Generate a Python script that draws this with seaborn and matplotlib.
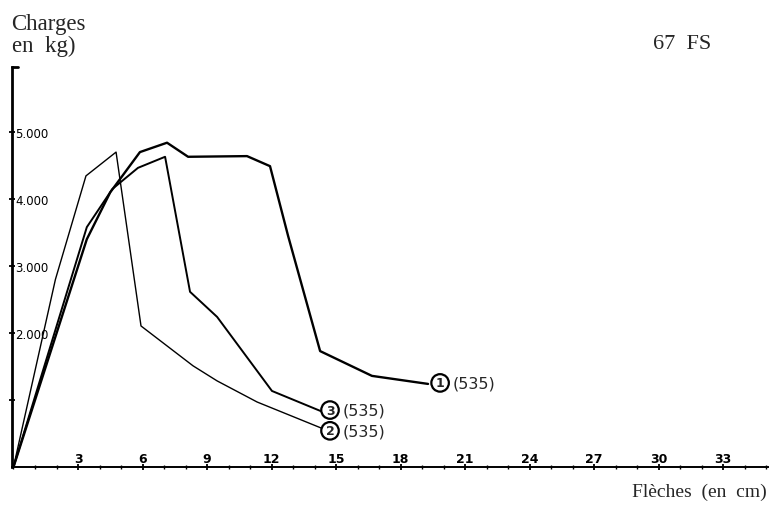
import numpy as np
import pandas as pd
import seaborn as sns
from matplotlib import pyplot as plt
from matplotlib.ticker import MultipleLocator

# Courbes charge / flèche (67 FS)
fleche_1 = [0, 3.41, 4.5, 5.88, 7.14, 8.12, 10.86, 11.93, 12.77, 14.26, 16.67, 19.28]
charge_1 = [0, 3400, 4100, 4700, 4840, 4630, 4640, 4490, 3450, 1730, 1360, 1240]

fleche_2 = [0, 1.95, 3.37, 4.77, 5.93, 8.35, 9.47, 11.33, 14.4]
charge_2 = [0, 2800, 4345, 4700, 2105, 1510, 1285, 970, 570]

fleche_3 = [0, 3.41, 4.6, 5.79, 7.05, 8.21, 9.47, 12.02, 14.4]
charge_3 = [0, 3580, 4150, 4465, 4630, 2615, 2240, 1135, 820]

etiquettes = ["1", "2", "3"]
etiquette_pos = {"1": (19.84, 1255), "2": (14.72, 540), "3": (14.72, 850)}

y_ticks = [1000, 2000, 3000, 4000, 5000]
y_labels = ["", "2.000", "3.000", "4.000", "5.000"]
x_ticks = [3, 6, 9, 12, 15, 18, 21, 24, 27, 30, 33]
x_labels = ["3", "6", "9", "12", "15", "18", "21", "24", "27", "30", "33"]

df = pd.concat([
    pd.DataFrame({"fleche": fleche_1, "charge": charge_1, "courbe": "1"}),
    pd.DataFrame({"fleche": fleche_2, "charge": charge_2, "courbe": "2"}),
    pd.DataFrame({"fleche": fleche_3, "charge": charge_3, "courbe": "3"}),
])

sns.set_style("white")
plt.rcParams['font.family'] = ['DejaVu Sans']

fig = plt.figure(figsize=(7.84, 5.10), dpi=100)
ax = fig.add_axes([11.5 / 784, 42 / 510, (768 - 11.5) / 784, 400 / 510])

largeurs = {"1": 1.7, "2": 1.0, "3": 1.4}
for c in etiquettes:
    sub = df[df["courbe"] == c]
    sns.lineplot(data=sub, x="fleche", y="charge", color="black", lw=largeurs[c],
                 sort=False, estimator=None, ax=ax)

ax.set_xlim(-0.093, 35.09)
ax.set_ylim(0, 5970)
ax.set_xlabel("")
ax.set_ylabel("")

# axes style
for s in ["top", "right"]:
    ax.spines[s].set_visible(False)
ax.spines["left"].set_linewidth(2.0)
ax.spines["bottom"].set_linewidth(1.4)
ax.spines["left"].set_color("black")
ax.spines["bottom"].set_color("black")
ax.plot([0, 0.009], [1, 1], color="black", lw=2, transform=ax.transAxes, clip_on=False)

ax.set_xticks(x_ticks)
ax.set_xticklabels(x_labels, fontsize=9, fontweight="bold", va="bottom")
ax.xaxis.set_minor_locator(MultipleLocator(1))
ax.tick_params(axis="x", which="both", bottom=True)
ax.tick_params(axis="x", which="major", direction="inout", length=5, width=1.3, pad=-4, colors="black")
ax.tick_params(axis="x", which="minor", direction="inout", length=3, width=1.0, colors="black")

ax.set_yticks(y_ticks)
ax.set_yticklabels(y_labels, fontsize=8.5, ha="left")
ax.tick_params(axis="y", left=True, direction="inout", length=5, width=1.3, pad=-5, colors="black")

# étiquettes des courbes
for c in etiquettes:
    x, y = etiquette_pos[c]
    ax.text(x, y, c, fontsize=9, fontweight="bold", ha="center", va="center",
            bbox=dict(boxstyle="circle,pad=0.18", fc="white", ec="black", lw=1.6))
    ax.annotate("(535)", (x, y), xytext=(9, 0), textcoords="offset points",
                fontsize=11.5, ha="left", va="center")

serif = ["Liberation Serif", "DejaVu Serif"]
fig.text(11 / 784, 1 - 30 / 510, "Charges", fontsize=16.5, family=serif, va="baseline")
fig.text(12 / 784, 1 - 52 / 510, "en  kg)", fontsize=16.5, family=serif, va="baseline")
fig.text(653 / 784, 1 - 49 / 510, "67  FS", fontsize=16, family=serif, va="baseline")
fig.text(767 / 784, 1 - 497 / 510, "Flèches  (en  cm)", fontsize=14, family=serif,
         va="baseline", ha="right")

fig.savefig("out.png", dpi=100)
